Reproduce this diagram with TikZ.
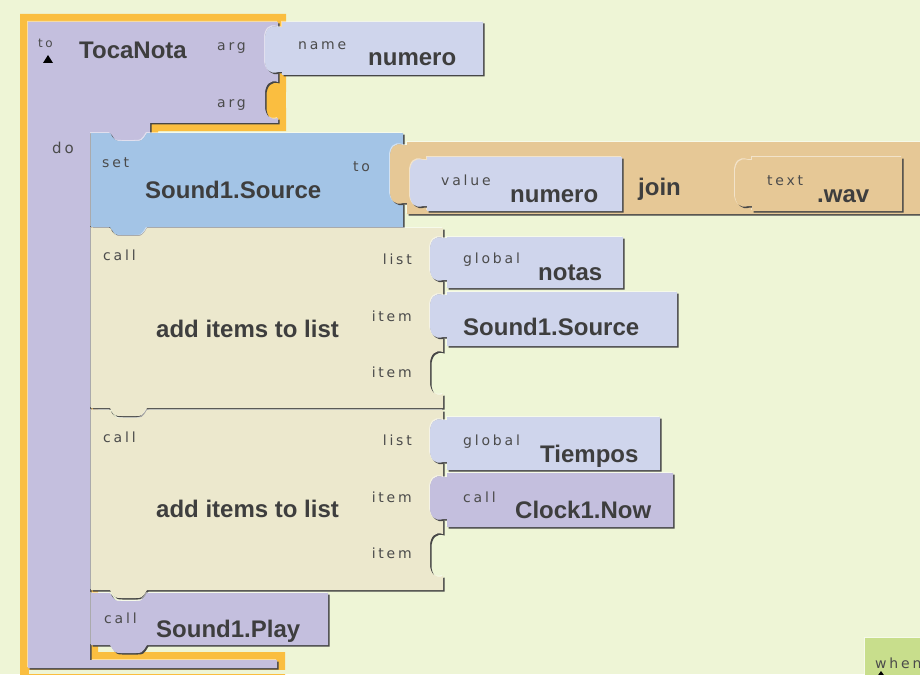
\documentclass[tikz,border=0pt]{standalone}
\usepackage{fontspec}
\setmainfont{Liberation Sans}
\newfontfamily\lblfont[LetterSpace=20]{DejaVu Sans}

\definecolor{bgcol}{RGB}{238,245,214}
\definecolor{procpurple}{RGB}{196,191,222}
\definecolor{hilite}{RGB}{250,190,64}
\definecolor{setblue}{RGB}{163,196,230}
\definecolor{argblue}{RGB}{207,213,236}
\definecolor{jointan}{RGB}{230,200,150}
\definecolor{callcream}{RGB}{236,232,205}
\definecolor{whengreen}{RGB}{200,222,140}
\definecolor{edgegray}{RGB}{70,70,70}
\definecolor{textgray}{RGB}{62,62,62}
\definecolor{labelgray}{RGB}{75,75,75}

\newcommand{\sockR}[3]{-- (#1,#2) .. controls (#1-8,#2-3) and (#1-13,#2+3) .. (#1-13,#2+12) -- (#1-13,#2+#3-12) .. controls (#1-13,#2+#3-3) and (#1-8,#2+#3+3) .. (#1,#2+#3)}
\newcommand{\plugL}[3]{-- (#1+4,#2+#3) -- (#1,#2+#3) .. controls (#1-8,#2+#3+3) and (#1-13,#2+#3-3) .. (#1-13,#2+#3-12) -- (#1-13,#2+12) .. controls (#1-13,#2+3) and (#1-8,#2-3) .. (#1,#2) -- (#1+4,#2)}
\newcommand{\notchT}[2]{-- (#1,#2) .. controls (#1+5,#2+8) .. (#1+12,#2+8) -- (#1+25,#2+8) .. controls (#1+32,#2+8) .. (#1+37,#2)}
\newcommand{\tabB}[2]{-- (#1,#2) .. controls (#1-5,#2+8) .. (#1-12,#2+8) -- (#1-25,#2+8) .. controls (#1-32,#2+8) .. (#1-37,#2)}

\tikzset{
  block/.style={preaction={fill=white, opacity=.5, transform canvas={shift={(-1pt,1pt)}}},
    preaction={fill=edgegray, transform canvas={shift={(1.5pt,-1.5pt)}}}},
  proc/.style={preaction={draw=hilite, line width=16}, block, fill=procpurple},
  lbl/.style={font=\lblfont\fontsize{14}{17}\selectfont, text=labelgray, inner sep=0pt, anchor=base west},
  big/.style={font=\bfseries\fontsize{24}{28}\selectfont, text=textgray, inner sep=0pt, anchor=base west}
}

\begin{document}
\begin{tikzpicture}[x=1pt,y=-1pt]

\useasboundingbox (0,0) rectangle (920,674);

\clip (0,0) rectangle (920,674);

\fill[bgcol] (0,0) rectangle (920,674);

\fill[hilite] (262,78) rectangle (286,122);

\path[proc] (28,22) -- (278,22) \sockR{278}{27}{45} \sockR{278}{82}{36} -- (278,123) -- (150,123) -- (150,133) \tabB{147}{133} -- (90,133) -- (90,660) -- (277,660) -- (277,668) -- (28,668) -- cycle;

\fill[bgcol] (29,670) rectangle (300,674);

\path[block, fill=argblue] (282,22) -- (483,22) -- (483,75) -- (282,75) \plugL{278}{27}{45} -- cycle;

\path[block, fill=setblue] (91,133) \notchT{110}{133} -- (403,133) \sockR{403}{145}{58} -- (403,227) \tabB{147}{227} -- (91,227) -- cycle;

\path[block, fill=jointan] (407,142) -- (960,142) -- (960,214) -- (407,214) \plugL{403}{145}{58} -- cycle;

\path[block, fill=argblue] (427,157) -- (622,157) -- (622,211) -- (427,211) \plugL{423}{160}{46} -- cycle;

\path[block, fill=jointan] (752,157) -- (902,157) -- (902,211) -- (752,211) \plugL{748}{160}{46} -- cycle;

\path[block, fill=callcream] (91,228) \notchT{110}{228} -- (443,228) \sockR{443}{238}{42} \sockR{443}{295}{42} \sockR{443}{352}{42} -- (443,408) \tabB{147}{408} -- (91,408) -- cycle;

\path[block, fill=argblue] (447,237) -- (623,237) -- (623,288) -- (447,288) \plugL{443}{238}{42} -- cycle;

\path[block, fill=argblue] (447,292) -- (677,292) -- (677,346) -- (447,346) \plugL{443}{295}{42} -- cycle;

\path[block, fill=callcream] (91,410) \notchT{110}{410} -- (443,410) \sockR{443}{420}{42} \sockR{443}{477}{42} \sockR{443}{534}{42} -- (443,590) \tabB{147}{590} -- (91,590) -- cycle;

\path[block, fill=argblue] (447,417) -- (660,417) -- (660,470) -- (447,470) \plugL{443}{420}{42} -- cycle;

\path[block, fill=procpurple] (447,473) -- (673,473) -- (673,527) -- (447,527) \plugL{443}{477}{42} -- cycle;

\path[block, fill=procpurple] (91,593) \notchT{110}{593} -- (328,593) -- (328,645) \tabB{147}{645} -- (91,645) -- cycle;

\path[block, fill=whengreen] (865,638) -- (960,638) -- (960,700) -- (865,700) -- cycle;

\fill[black] (43,63) -- (53,63) -- (48,55) -- cycle;

\fill[black] (876,678) -- (886,678) -- (881,671) -- cycle;

\node[lbl, font=\lblfont\fontsize{12}{15}\selectfont] (tolbl) at (38,48) {to};

\node[big] (procname) at (79,59) {TocaNota};

\node[lbl] (argone) at (217,51) {arg};

\node[lbl] (argtwo) at (217,108) {arg};

\node[lbl] (namelbl) at (298,50) {name};

\node[big] (argname) at (368,66) {numero};

\node[lbl, font=\lblfont\fontsize{15}{18}\selectfont] (dolbl) at (52,153) {do};

\node[lbl] (setlbl) at (102,167) {set};

\node[big] (setprop) at (145,198) {Sound1.Source};

\node[lbl] (setto) at (353,171) {to};

\node[lbl] (valuelbl) at (441,185) {value};

\node[big] (valuename) at (510,202) {numero};

\node[big] (joinlbl) at (638,195) {join};

\node[lbl] (textlbl) at (767,185) {text};

\node[big] (textval) at (817,202) {.wav};

\node[lbl] (callone) at (103,260) {call};

\node[big] (addone) at (156,337) {add items to list};

\node[lbl, anchor=base east] (listone) at (412,264) {list};

\node[lbl, anchor=base east] (itemone) at (412,321) {item};

\node[lbl, anchor=base east] (itemtwo) at (412,377) {item};

\node[lbl] (globone) at (463,263) {global};

\node[big] (notasname) at (538,280) {notas};

\node[big] (sourceval) at (463,335) {Sound1.Source};

\node[lbl] (calltwo) at (103,442) {call};

\node[big] (addtwo) at (156,517) {add items to list};

\node[lbl, anchor=base east] (listtwo) at (412,445) {list};

\node[lbl, anchor=base east] (itemthree) at (412,502) {item};

\node[lbl, anchor=base east] (itemfour) at (412,558) {item};

\node[lbl] (globtwo) at (463,445) {global};

\node[big] (tiemposname) at (540,462) {Tiempos};

\node[lbl] (callclock) at (463,502) {call};

\node[big] (clockname) at (515,518) {Clock1.Now};

\node[lbl] (callplay) at (104,623) {call};

\node[big] (playname) at (156,637) {Sound1.Play};

\node[lbl] (whenlbl) at (875,668) {when};

\end{tikzpicture}
\end{document}
